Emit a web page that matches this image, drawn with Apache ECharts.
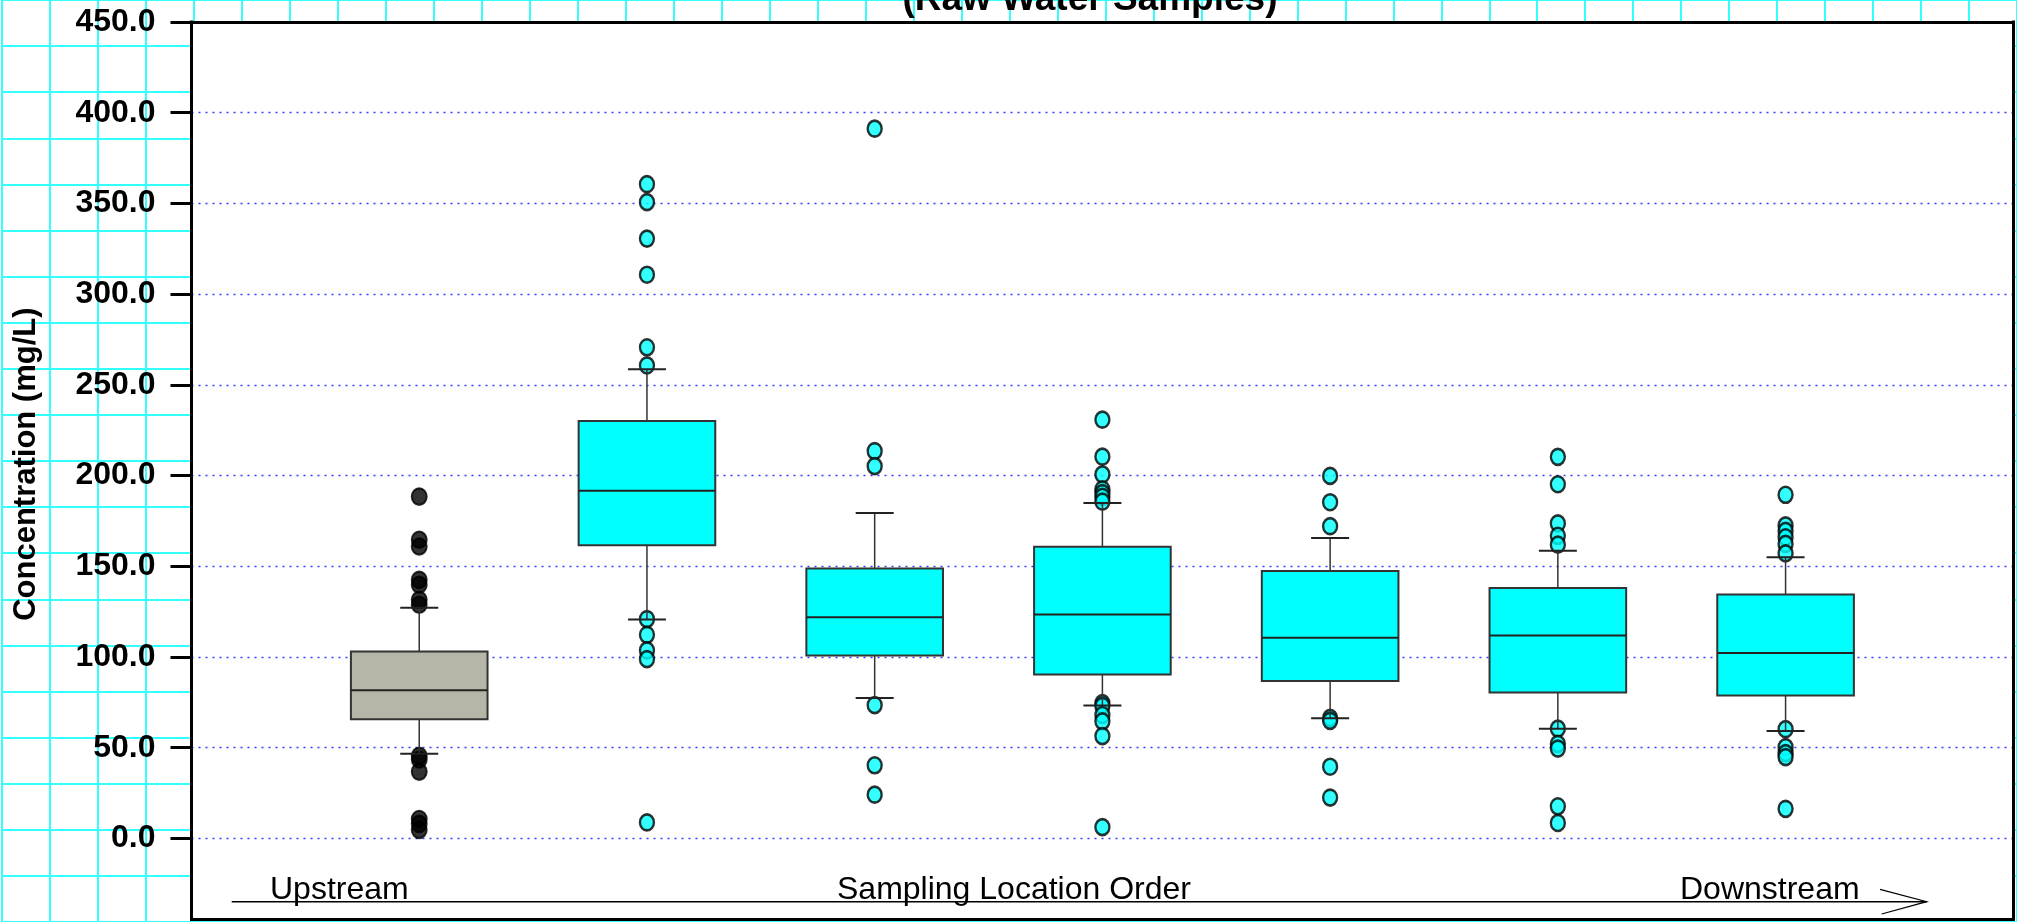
<!DOCTYPE html>
<html><head><meta charset="utf-8">
<script src="https://cdn.jsdelivr.net/npm/echarts@6/dist/echarts.min.js"></script>
<style>html,body{margin:0;padding:0;background:#fff}#c{width:2017px;height:922px}</style>
</head><body><div id="c"></div>
<script>
// ---- data ----
const sites = [1, 2, 3, 4, 5, 6, 7];
const whiskerLow  = [46.7, 120.7, 77.4, 73.3, 66.2, 60.5, 59.2];
const quartile1   = [65.7, 161.6, 100.8, 90.3, 86.8, 80.4, 78.8];
const medians     = [81.7, 191.6, 121.9, 123.4, 110.6, 111.9, 102.2];
const quartile3   = [103.0, 230.0, 148.7, 160.7, 147.4, 138.0, 134.5];
const whiskerHigh = [127.1, 258.6, 179.3, 184.9, 165.6, 158.5, 155.0];
const outliers1 = [188.4, 164.6, 160.9, 142.5, 139.8, 131.5, 128.8, 45.5, 43.5, 36.8, 10.7, 8.0, 4.7];
const outliers2 = [360.6, 350.7, 330.6, 310.7, 270.7, 260.7, 120.9, 112.2, 103.6, 98.8, 8.8];
const outliers3 = [391.2, 213.5, 205.2, 73.5, 40.3, 24.1];
const outliers4 = [230.8, 210.4, 200.6, 192.4, 190.3, 188.2, 185.6, 74.6, 73.0, 68.0, 64.5, 56.4, 6.2];
const outliers5 = [199.8, 185.3, 172.1, 66.4, 64.8, 39.5, 22.5];
const outliers6 = [210.3, 195.2, 173.6, 166.8, 161.9, 60.5, 52.1, 49.5, 17.7, 8.5];
const outliers7 = [189.4, 172.5, 169.5, 166.0, 162.3, 157.1, 60.2, 50.3, 47.0, 44.8, 16.3];
const yTicks = [0, 50, 100, 150, 200, 250, 300, 350, 400, 450];
const titleText = '(Raw Water Samples)';
const yTitle = 'Concentration (mg/L)';
const arrowLabels = ['Upstream', 'Sampling Location Order', 'Downstream'];

// ---- build ----
const FONT = '"Liberation Sans", Arial, sans-serif';
const Y_MIN = -44.6, Y_MAX = 450;
const outlierSets = [outliers1, outliers2, outliers3, outliers4, outliers5, outliers6, outliers7];
const upstreamPts = outlierSets[0].map(v => [sites[0], v]);
const otherPts = [];
outlierSets.slice(1).forEach((arr, i) => arr.forEach(v => otherPts.push([sites[i + 1], v])));
const boxData = sites.map((s, i) => [s, whiskerLow[i], quartile1[i], medians[i], quartile3[i], whiskerHigh[i]]);

const chart = echarts.init(document.getElementById('c'), null, {renderer: 'canvas'});
const hidden = {axisLine: {show: false}, axisTick: {show: false}, axisLabel: {show: false}};
const frameLine = {show: true, onZero: false, lineStyle: {color: '#000', width: 3, cap: 'square'}};

chart.setOption({
  animation: false,
  backgroundColor: '#fff',
  grid: [
    {left: 191.5, top: 22, right: 3.7, bottom: 2.7, show: true, backgroundColor: '#fff', borderWidth: 0, z: 1},
    {left: 2, top: -14.8, width: 2016, height: 962, show: false, z: 0}
  ],
  xAxis: [
    Object.assign({}, hidden, {gridIndex: 0, type: 'value', min: 0, max: 8, position: 'bottom', splitLine: {show: false}, axisLine: frameLine, z: 3}),
    Object.assign({}, hidden, {gridIndex: 1, type: 'value', min: 0, max: 42, interval: 1, z: 0,
      splitLine: {show: true, lineStyle: {color: '#33FFFF', width: 2}}}),
    Object.assign({}, hidden, {gridIndex: 0, type: 'value', min: 0, max: 8, position: 'top', splitLine: {show: false}, axisLine: frameLine, z: 3})
  ],
  yAxis: [
    {gridIndex: 0, type: 'value', min: Y_MIN, max: Y_MAX, position: 'left', z: 2,
      axisLine: frameLine,
      axisTick: {show: true, inside: false, length: 21, customValues: yTicks, lineStyle: {color: '#000', width: 3}},
      axisLabel: {show: true, customValues: yTicks, margin: 36, formatter: v => Number(v).toFixed(1),
        color: '#000', fontFamily: FONT, fontWeight: 'bold', fontSize: 32},
      splitLine: {show: true, lineStyle: {color: '#3b3bff', width: 1.3, type: [2, 5]}},
      name: yTitle, nameLocation: 'middle', nameRotate: 90, nameGap: 150,
      nameTextStyle: {color: '#000', fontFamily: FONT, fontWeight: 'bold', fontSize: 31, padding: [0, 0, 0, 13]}
    },
    Object.assign({}, hidden, {gridIndex: 1, type: 'value', min: 0, max: 20, interval: 1, z: 0,
      splitLine: {show: true, lineStyle: {color: '#33FFFF', width: 2}}}),
    Object.assign({}, hidden, {gridIndex: 0, type: 'value', min: Y_MIN, max: Y_MAX, position: 'right', splitLine: {show: false}, axisLine: frameLine, z: 3})
  ],
  series: [
    {type: 'scatter', xAxisIndex: 0, yAxisIndex: 0, z: 4, data: upstreamPts,
      symbol: 'circle', symbolSize: [15, 16.5],
      itemStyle: {color: '#000', borderColor: '#000', borderWidth: 2}},
    {type: 'scatter', xAxisIndex: 0, yAxisIndex: 0, z: 4, data: otherPts,
      symbol: 'circle', symbolSize: [14, 16],
      itemStyle: {color: '#00FFFF', borderColor: '#000', borderWidth: 2.5}},
    {type: 'custom', xAxisIndex: 0, yAxisIndex: 0, z: 5, data: boxData,
      encode: {x: 0, y: [1, 2, 3, 4, 5]},
      renderItem: function (params, api) {
        const x = api.value(0);
        const p = k => api.coord([x, api.value(k)]);
        const lo = p(1), a = p(2), m = p(3), b = p(4), hi = p(5);
        const hw = api.size([1, 0])[0] * 0.3;
        const cw = 19;
        const fill = params.dataIndex === 0 ? '#B5B5A8' : '#00FFFF';
        const thin = {stroke: '#333', lineWidth: 1.5};
        const cap = {stroke: '#222', lineWidth: 2};
        return {type: 'group', children: [
          {type: 'line', shape: {x1: lo[0], y1: a[1], x2: lo[0], y2: lo[1]}, style: thin},
          {type: 'line', shape: {x1: hi[0], y1: b[1], x2: hi[0], y2: hi[1]}, style: thin},
          {type: 'line', shape: {x1: lo[0] - cw, y1: lo[1], x2: lo[0] + cw, y2: lo[1]}, style: cap},
          {type: 'line', shape: {x1: hi[0] - cw, y1: hi[1], x2: hi[0] + cw, y2: hi[1]}, style: cap},
          {type: 'rect', shape: {x: m[0] - hw, y: b[1], width: 2 * hw, height: a[1] - b[1]},
            style: {fill: fill, stroke: '#333', lineWidth: 2}},
          {type: 'line', shape: {x1: m[0] - hw, y1: m[1], x2: m[0] + hw, y2: m[1]}, style: {stroke: '#222', lineWidth: 2}}
        ]};
      }
    }
  ],
  graphic: [
    {type: 'text', z: 20, style: {text: titleText, x: 1090, y: 0, align: 'center', verticalAlign: 'middle',
      font: 'bold 37px ' + FONT, fill: '#000'}},
    {type: 'line', z: 20, shape: {x1: 231.7, y1: 901.7, x2: 1926.7, y2: 901.7}, style: {stroke: '#000', lineWidth: 1.6}},
    {type: 'polyline', z: 20, shape: {points: [[1880, 889.3], [1926.7, 901.7], [1881.7, 914]]}, style: {stroke: '#000', lineWidth: 1.2, fill: null}},
    {type: 'text', z: 20, style: {text: arrowLabels[0], x: 270, y: 890, align: 'left', verticalAlign: 'middle', font: '32px ' + FONT, fill: '#000'}},
    {type: 'text', z: 20, style: {text: arrowLabels[1], x: 837, y: 890, align: 'left', verticalAlign: 'middle', font: '32px ' + FONT, fill: '#000'}},
    {type: 'text', z: 20, style: {text: arrowLabels[2], x: 1680, y: 890, align: 'left', verticalAlign: 'middle', font: '32px ' + FONT, fill: '#000'}}
  ]
});
</script></body></html>
